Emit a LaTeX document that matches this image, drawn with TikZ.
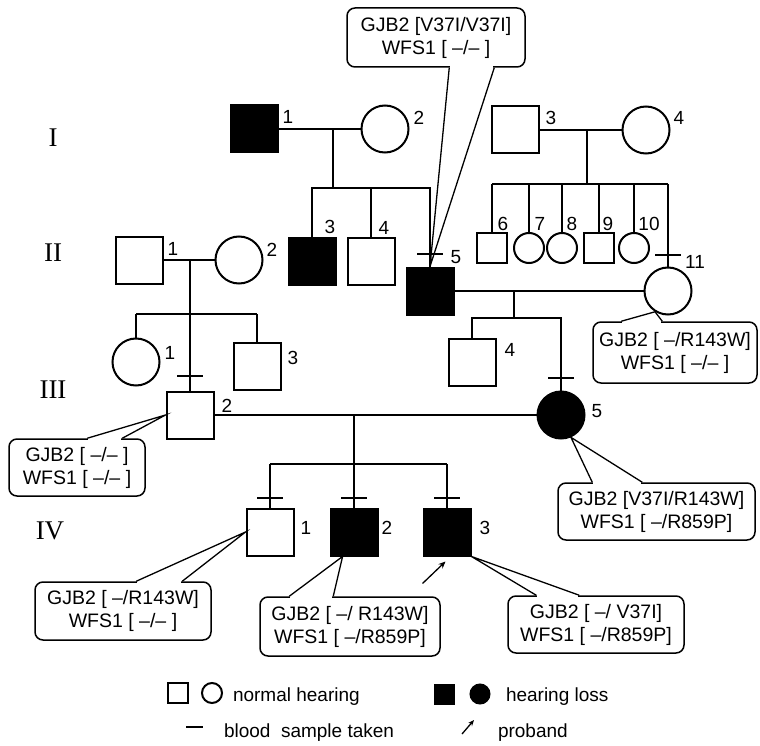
\documentclass[tikz,border=0pt]{standalone}
\usepackage{xcolor}
\usepackage{fontspec}
\setsansfont{Liberation Sans}
\newfontfamily\genfont{Liberation Serif}
\usepackage{tikz}
\usetikzlibrary{arrows.meta, calc}

\begin{document}
\begin{tikzpicture}[x=1pt, y=-1pt, line width=2pt,
  male/.style={draw, minimum size=47pt, inner sep=0pt},
  female/.style={draw, circle, minimum size=47pt, inner sep=0pt},
  small/.style={minimum size=30pt},
  affected/.style={fill=black},
  num/.style={font=\sffamily\fontsize{19}{19}\selectfont, inner sep=0pt},
  gen/.style={font=\genfont\fontsize{27}{27}\selectfont, inner sep=0pt},
  geno/.style={draw, line width=1.5pt, rounded corners=8pt, fill=white, align=center,
    inner sep=0pt, font=\sffamily\fontsize{19.5}{23}\selectfont},
  pointer/.style={line width=1.3pt},
  legend/.style={font=\sffamily\fontsize{19}{19}\selectfont, anchor=base west, inner sep=0pt}]
\useasboundingbox (0,0) rectangle (760,746);
\fill[white] (0,0) rectangle (760,746);

% generations
\node[gen] (gI) at (53,138) {I};
\node[gen] (gII) at (53,253) {II};
\node[gen] (gIII) at (53,390) {III};
\node[gen] (gIV) at (50,531) {IV};

% persons
\node[male, affected] (I1) at (254,129) {};
\node[female] (I2) at (385,129) {};
\node[male] (I3) at (515,130) {};
\node[female] (I4) at (646,130) {};
\node[male] (II1) at (139,260) {};
\node[female] (II2) at (239,260) {};
\node[male, affected] (II3) at (312,261) {};
\node[male] (II4) at (371,261) {};
\node[male, affected] (II5) at (430,291) {};
\node[male, small] (II6) at (492,248) {};
\node[female, small] (II7) at (529,248) {};
\node[female, small] (II8) at (562,248) {};
\node[male, small] (II9) at (599,248) {};
\node[female, small] (II10) at (634,248) {};
\node[female] (II11) at (668,291) {};
\node[female] (III1) at (136,362) {};
\node[male] (III2) at (190,415) {};
\node[male] (III3) at (257,366) {};
\node[male] (III4) at (472,362) {};
\node[female, affected] (III5) at (561,415) {};
\node[male] (IV1) at (270,532) {};
\node[male, affected] (IV2) at (354,532) {};
\node[male, affected] (IV3) at (447,532) {};

% numbers
\foreach \p/\x/\y/\lab in {I1/288/117/1, I2/419/118/2, I3/551/118/3, I4/679/118/4,
    II1/173/249/1, II2/272/250/2, II3/330/227/3, II4/384/228/4, II5/456/257/5,
    II6/503/224/6, II7/540/224/7, II8/572/224/8, II9/608/224/9, II10/649/224/10,
    II11/695/262/11, III1/170/353/1, III2/227/406/2, III3/293/358/3, III4/510/350/4,
    III5/597/411/5, IV1/306/528/1, IV2/387/528/2, IV3/485/528/3} {
  \node[num] (n\p) at (\x,\y) {\lab};
}

% matings and sibships
\draw (I1) -- (I2);
\coordinate (m1) at (333,129);
\coordinate (s1) at (333,188);
\draw (m1) -- (s1);
\draw (II3.north) -- (II3.north |- s1) -- (II5.north |- s1) -- (II5.north);
\draw (II4.north) -- (II4.north |- s1);

\draw (I3) -- (I4);
\coordinate (m2) at (587,130);
\coordinate (s2) at (587,184);
\draw (m2) -- (s2);
\draw (II6.north |- s2) -- (II11.north |- s2);
\foreach \k in {6,...,11} {
  \draw (II\k.north |- s2) -- (II\k.north);
}

\draw (II1) -- (II2);
\coordinate (m3) at (190,260);
\coordinate (s3) at (190,314);
\draw (m3) -- (s3);
\draw (III1.north |- s3) -- (III3.north |- s3);
\foreach \k in {1,2,3} {
  \draw (III\k.north |- s3) -- (III\k.north);
}

\draw (II5) -- (II11);
\coordinate (m4) at (514,291);
\coordinate (s4) at (514,318);
\draw (m4) -- (s4);
\draw (III4.north) -- (III4.north |- s4) -- (III5.north |- s4) -- (III5.north);

\draw (III2) -- (III5);
\coordinate (m5) at (354,415);
\coordinate (s5) at (354,464);
\draw (m5) -- (s5);
\draw (IV1.north |- s5) -- (IV3.north |- s5);
\foreach \k in {1,2,3} {
  \draw (IV\k.north |- s5) -- (IV\k.north);
}

% blood samples
\foreach \p/\d in {II5/13, II11/12, III2/15, III5/13, IV1/10, IV2/10, IV3/10} {
  \draw ($(\p.north)+(-13,-\d)$) -- ++(26,0);
}

% genotypes
\node[geno, minimum width=178pt, minimum height=59pt] (cII5) at (436,37.5)
  {GJB2 [V37I/V37I]\\WFS1 [ –/– ]};
\node[geno, minimum width=164pt, minimum height=61pt] (cII11) at (675,352.5)
  {GJB2 [ –/R143W]\\WFS1 [ –/– ]};
\node[geno, minimum width=136pt, minimum height=57pt] (cIII2) at (77,467.5)
  {GJB2 [ –/– ]\\WFS1 [ –/– ]};
\node[geno, minimum width=197pt, minimum height=57pt] (cIII5) at (656.5,511.5)
  {GJB2 [V37I/R143W]\\WFS1 [ –/R859P]};
\node[geno, minimum width=176pt, minimum height=58pt] (cIV1) at (123,611)
  {GJB2 [ –/R143W]\\WFS1 [ –/– ]};
\node[geno, minimum width=180pt, minimum height=59pt] (cIV2) at (350,626.5)
  {GJB2 [ –/ R143W]\\WFS1 [ –/R859P]};
\node[geno, minimum width=176pt, minimum height=57pt] (cIV3) at (596,624.5)
  {GJB2 [ –/ V37I]\\WFS1 [ –/R859P]};

\foreach \cn/\sd/\pa/\pb/\tp in {cII5/south west/103/148/II5.north,
    cII11/north west/29/70/II11.-122, cIII2/north west/79/114/III2.west,
    cIII5/north west/35/85/III5.-66, cIV1/north west/102/148/IV1.west,
    cIV2/north west/30/74/IV2.-115, cIV3/north west/29/72/IV3.south east} {
  \draw[white, line width=2.5pt] ($(\cn.\sd)+(\pa+1,0)$) -- ($(\cn.\sd)+(\pb-1,0)$);
  \draw[pointer] ($(\cn.\sd)+(\pa,0)$) -- (\tp) -- ($(\cn.\sd)+(\pb,0)$);
}

% proband
\draw[pointer, -{Stealth[length=7pt, width=6pt]}] ($(IV3.south west)+(0,27)$) -- ($(IV3.south west)+(23,5)$);

% legend
\node[male, minimum size=20pt] (lgA) at (178,693) {};
\node[female, minimum size=20pt] (lgB) at (212,693) {};
\node[legend] (lgC) at (232,701) {normal hearing};
\node[male, affected, minimum size=19pt] (lgD) at (444,694) {};
\node[female, affected, minimum size=19pt] (lgE) at (480,694) {};
\node[legend] (lgF) at (505,701) {hearing loss};
\coordinate (lgG) at (186,727);
\draw (lgG) -- ++(17,0);
\node[legend] (lgH) at (223,737) {blood\ \ sample taken};
\coordinate (lgI) at (462,734);
\draw[pointer, -{Stealth[length=6pt, width=5pt]}] (lgI) -- ++(12,-14);
\node[legend] (lgJ) at (497,737) {proband};
\end{tikzpicture}
\end{document}
